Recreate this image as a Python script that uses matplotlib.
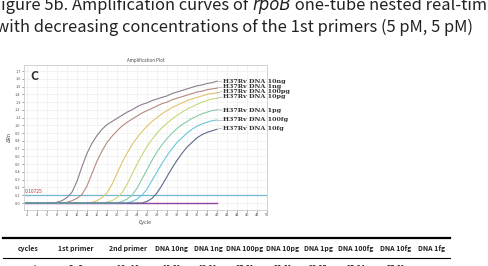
import matplotlib
matplotlib.use('Agg')
matplotlib.rcParams['font.family'] = ['Noto Sans CJK KR', 'DejaVu Sans']

import matplotlib.pyplot as plt
import numpy as np

# amplification data (delta Rn per cycle, cycles 1..40)
cycles = np.arange(1, 41)
rn_10ng = [0.0] * 7 + [0.01, 0.03, 0.07, 0.14, 0.28, 0.47, 0.64, 0.77, 0.87, 0.95,
                       1.01, 1.05, 1.09, 1.13, 1.17, 1.20, 1.24, 1.27, 1.29, 1.32,
                       1.34, 1.36, 1.38, 1.41, 1.43, 1.45, 1.47, 1.49, 1.51, 1.52,
                       1.54, 1.55, 1.57]
rn_1ng = [0.0] * 9 + [0.01, 0.03, 0.06, 0.11, 0.22, 0.38, 0.54, 0.67, 0.78, 0.86,
                      0.93, 0.99, 1.04, 1.08, 1.12, 1.16, 1.19, 1.22, 1.25, 1.28,
                      1.30, 1.33, 1.35, 1.37, 1.39, 1.41, 1.43, 1.44, 1.46, 1.47,
                      1.48]
rn_100pg = [0.0] * 14 + [0.01, 0.03, 0.07, 0.13, 0.24, 0.38, 0.52, 0.64, 0.75, 0.84,
                         0.92, 0.99, 1.05, 1.10, 1.15, 1.19, 1.23, 1.26, 1.29, 1.32,
                         1.34, 1.36, 1.38, 1.40, 1.41, 1.42]
rn_10pg = [0.0] * 17 + [0.01, 0.03, 0.07, 0.13, 0.24, 0.37, 0.50, 0.62, 0.73, 0.82,
                        0.90, 0.97, 1.03, 1.08, 1.13, 1.17, 1.21, 1.24, 1.27, 1.30,
                        1.32, 1.34, 1.35]
rn_1pg = [0.0] * 20 + [0.02, 0.05, 0.10, 0.19, 0.31, 0.43, 0.55, 0.66, 0.75, 0.83,
                       0.90, 0.96, 1.01, 1.05, 1.09, 1.12, 1.15, 1.17, 1.19, 1.20]
rn_100fg = [0.0] * 22 + [0.02, 0.05, 0.10, 0.18, 0.29, 0.40, 0.51, 0.61, 0.70, 0.78,
                         0.84, 0.90, 0.95, 0.99, 1.02, 1.04, 1.06, 1.07]
rn_10fg = [0.0] * 25 + [0.02, 0.06, 0.13, 0.23, 0.34, 0.45, 0.55, 0.64, 0.72, 0.78,
                        0.84, 0.88, 0.91, 0.93, 0.95]
rn_1fg = [0.0] * 40
rn_ntc = [0.0] * 40

names = ['H37Rv DNA 10ng', 'H37Rv DNA 1ng', 'H37Rv DNA 100pg', 'H37Rv DNA 10pg',
         'H37Rv DNA 1pg', 'H37Rv DNA 100fg', 'H37Rv DNA 10fg']
series = [rn_10ng, rn_1ng, rn_100pg, rn_10pg, rn_1pg, rn_100fg, rn_10fg]
colors = ['#8c7c90', '#b48a80', '#e2c46a', '#c6d878', '#86cba6', '#6cc6da', '#5c6a8c']
label_y = [1.56, 1.495, 1.437, 1.366, 1.198, 1.07, 0.966]
threshold = 0.1

table_cols = ['cycles', '1st primer', '2nd primer', 'DNA 10ng', 'DNA 1ng', 'DNA 100pg',
              'DNA 10pg', 'DNA 1pg', 'DNA 100fg', 'DNA 10fg', 'DNA 1fg']
table_row = ['35 cycles', '5 : 5', '10 : 10', '10.61', '12.91', '17.61', '20.61',
             '23.05', '25.04', '27.61', '-']
col_x = [28, 76, 128, 172, 208, 245, 283, 318, 356, 396, 432]

W, H = 489, 266
fig = plt.figure(figsize=(W / 100, H / 100), dpi=100)

# caption text above the chart
cap_size = 11.9
y1 = 1 - 5 / H
t1 = fig.text(-8 / W, y1, 'Figure 5b. Amplification curves of ', fontsize=cap_size,
              va='center', ha='left', color='#222222')
fig.text(-4 / W, 1 - 27 / H,
         'with decreasing concentrations of the 1st primers (5 pM, 5 pM)',
         fontsize=cap_size, va='center', ha='left', color='#222222')
fig.canvas.draw()
bb = t1.get_window_extent()
t2 = fig.text(bb.x1 / W, y1, 'rpoB', fontsize=cap_size, style='italic',
              family='DejaVu Sans', va='center', ha='left', color='#222222')
fig.canvas.draw()
bb2 = t2.get_window_extent()
fig.text(bb2.x1 / W, y1, ' one-tube nested real-time', fontsize=cap_size,
         va='center', ha='left', color='#222222')

# amplification plot
ax = fig.add_axes([24 / W, 1 - 210 / H, (267 - 24) / W, (210 - 65) / H])
ax.set_xlim(1.4, 50)
ax.set_ylim(-0.09, 1.778)
ax.set_xticks(np.arange(2, 51, 2))
ax.set_yticks(np.arange(0, 1.75, 0.1))
ax.set_yticklabels(['%.1f' % v for v in np.arange(0, 1.75, 0.1)])
ax.tick_params(labelsize=2.8, length=1.5, width=0.4, colors='#555555', pad=1)
ax.grid(True, color='#eeeeee', linewidth=0.5)
ax.set_axisbelow(True)
for s in ax.spines.values():
    s.set_color('#cccccc')
    s.set_linewidth(0.6)

ax.axhline(threshold, color='#74b6d4', linewidth=0.9)
ax.text(1.6, threshold + 0.01, '0.10725', fontsize=3.5, color='#b03040', va='bottom')

ax.plot(cycles, rn_ntc, color='#d8506a', linewidth=0.9)
ax.plot(cycles, rn_1fg, color='#8a48a8', linewidth=0.9)
for vals, c in zip(series, colors):
    ax.plot(cycles, vals, color=c, linewidth=0.8)

for name, vals, c, ly in zip(names, series, colors, label_y):
    ax.plot([40, 41], [vals[-1], ly], color='#999999', linewidth=0.4)
    ax.text(41.2, ly, name, fontsize=4.6, fontweight='bold', color='#333333',
            va='center', ha='left', family='DejaVu Serif')

ax.set_title('Amplification Plot', fontsize=3.2, pad=2, color='#444444')
ax.set_xlabel('Cycle', fontsize=3.8, labelpad=2, color='#444444')
ax.set_ylabel('ΔRn', fontsize=3.8, labelpad=2, color='#444444')
ax.text(2.6, 1.63, 'C', fontsize=9, fontweight='bold', color='#333333', va='center')

# table under the chart
fig.add_artist(plt.Line2D([3 / W, 450 / W], [1 - 238 / H] * 2, color='black',
                          linewidth=1.6))
fig.add_artist(plt.Line2D([3 / W, 450 / W], [1 - 258 / H] * 2, color='black',
                          linewidth=0.8))
for x, head, val in zip(col_x, table_cols, table_row):
    fig.text(x / W, 1 - 248 / H, head, fontsize=5.0, ha='center', va='center',
             fontweight='bold', color='#222222')
    fig.text(x / W, 1 - 268 / H, val, fontsize=5.0, ha='center', va='center',
             fontweight='bold', color='#222222')

fig.savefig('out.png', dpi=100)
